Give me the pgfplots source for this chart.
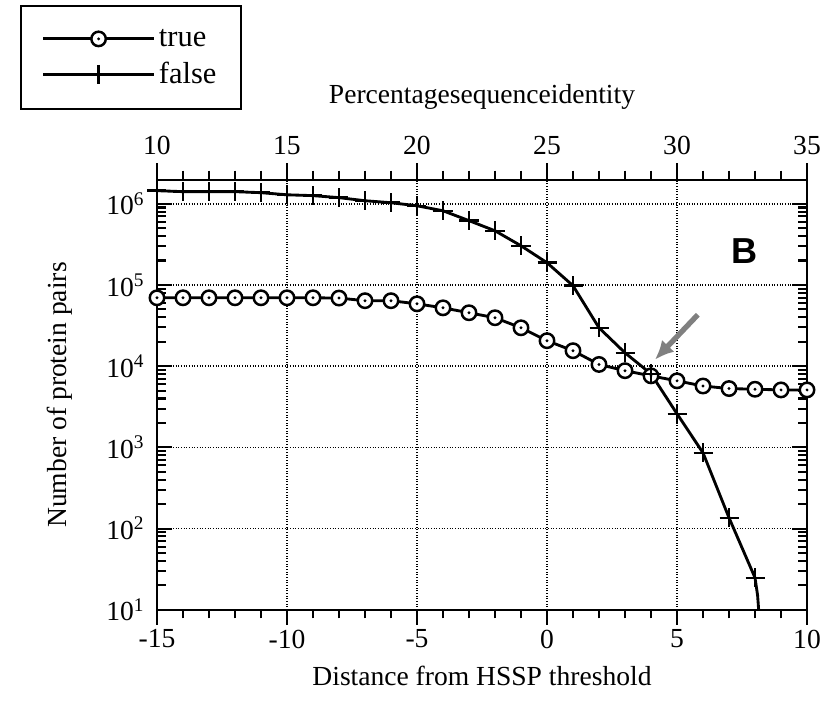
\documentclass[border=0pt]{standalone}
\usepackage{fontspec}
\setmainfont{Liberation Serif}
\newfontfamily\sansb{Liberation Sans}
\usepackage{pgfplots}
\pgfplotsset{compat=1.18}
\usetikzlibrary{arrows.meta}

% open circle with a dot in the middle
\pgfdeclareplotmark{odot}{%
  \pgfsetfillcolor{white}%
  \pgfpathcircle{\pgfpointorigin}{\pgfplotmarksize}\pgfusepathqfillstroke
  \pgfsetfillcolor{black}%
  \pgfpathcircle{\pgfpointorigin}{0.22\pgfplotmarksize}\pgfusepathqfill}

\begin{document}
\begin{tikzpicture}
\begin{axis}[
  scale only axis,
  width=342pt, height=226pt,
  ymode=log,
  xmin=-15, xmax=10,
  ymin=10, ymax=1.95e6,
  axis line style={line width=1.2pt},
  xtick={-15,-10,...,10},
  xticklabels={-15,-10,-5,0,5,10},
  minor x tick num=4,
  xtick pos=lower,
  xtick align=outside,
  ytick align=inside,
  ytick={10,100,1000,10000,100000,1000000},
  yticklabels={10\textsuperscript{1},10\textsuperscript{2},10\textsuperscript{3},10\textsuperscript{4},10\textsuperscript{5},10\textsuperscript{6}},
  major tick length=8pt,
  minor tick length=4.5pt,
  every tick/.style={black, line width=1.1pt},
  grid=major,
  major grid style={black, densely dotted, line width=0.9pt},
  xticklabel shift=-1pt,
  yticklabel shift=3pt,
  xlabel={Distance from HSSP threshold},
  ylabel={Number of protein pairs},
  xlabel style={at={(axis description cs:0.5,-0.154)}, anchor=center},
  ylabel style={at={(axis description cs:-0.149,0.5)}, anchor=center},
  tick label style={font=\fontsize{14.5}{15}\selectfont},
  label style={font=\fontsize{14.5}{15}\selectfont},
  legend style={at={(-0.2108,1.408)}, anchor=north west, draw=black,
    line width=1.2pt, font=\fontsize{16}{16}\selectfont,
    inner xsep=11pt, inner ysep=10pt, row sep=3pt},
  legend cell align=left,
  legend image code/.code={%
    \draw[mark repeat=2, mark phase=2, line width=1.5pt, #1] plot coordinates {(0cm,0cm) (1.02cm,0cm) (2.04cm,0cm)};},
]
\coordinate (bbl) at (rel axis cs:-0.2415,-0.2168);
\coordinate (btr) at (rel axis cs:1.0369,1.4196);
\addplot[black, line width=1.5pt, mark=odot, mark size=3.8pt,
  mark options={line width=1.3pt}] coordinates {
(-15,6.95e4) (-14,6.95e4) (-13,6.95e4) (-12,6.95e4) (-11,6.95e4)
(-10,6.95e4) (-9,6.95e4) (-8,6.9e4) (-7,6.4e4) (-6,6.4e4)
(-5,5.86e4) (-4,5.23e4) (-3,4.55e4) (-2,3.95e4) (-1,2.97e4)
(0,2.06e4) (1,1.55e4) (2,1.05e4) (3,8.8e3) (4,7.6e3)
(5,6.6e3) (6,5.7e3) (7,5.3e3) (8,5.2e3) (9,5.1e3) (10,5.1e3)};
\addlegendentry{true}
\addplot[black, line width=1.5pt, mark=+, mark size=5pt,
  mark options={line width=1.3pt}] coordinates {
(-15,1.45e6) (-14,1.41e6) (-13,1.41e6) (-12,1.41e6) (-11,1.37e6)
(-10,1.29e6) (-9,1.26e6) (-8,1.19e6) (-7,1.09e6) (-6,1.03e6)
(-5,9.45e5) (-4,8.2e5) (-3,6.2e5) (-2,4.65e5) (-1,3.04e5)
(0,1.88e5) (1,9.8e4) (2,2.97e4) (3,1.46e4) (4,8.05e3)
(5,2.59e3) (6,857) (7,136) (8,24.8)};
\addlegendentry{false}
\addplot[black, line width=1.5pt, forget plot] coordinates {
(8,24.8) (8.1,15) (8.14,10)};
\node[font=\sansb\bfseries\fontsize{19}{20}\selectfont] at (axis cs:7.6,2.6e5) {B};
\draw[gray, line width=2.8pt, -{Latex[length=10pt,width=9pt]}]
  (axis cs:5.8,4.3e4) -- (axis cs:4.15,1.2e4);
\end{axis}
\begin{axis}[
  scale only axis,
  width=342pt, height=226pt,
  xmin=10, xmax=35,
  ymin=0, ymax=1,
  axis x line*=top,
  axis y line=none,
  axis line style={line width=1.2pt},
  xtick={10,15,...,35},
  minor x tick num=4,
  xtick align=outside,
  major tick length=9pt,
  minor tick length=5pt,
  every tick/.style={black, line width=1.1pt},
  xticklabel shift=1pt,
  /pgf/number format/assume math mode=true,
  xlabel={Percentagesequenceidentity},
  xlabel style={at={(axis description cs:0.5,1.193)}, anchor=center},
  tick label style={font=\fontsize{14.5}{15}\selectfont},
  label style={font=\fontsize{14.5}{15}\selectfont},
]
\end{axis}
\pgfresetboundingbox
\path (bbl) rectangle (btr);
\end{tikzpicture}
\end{document}
